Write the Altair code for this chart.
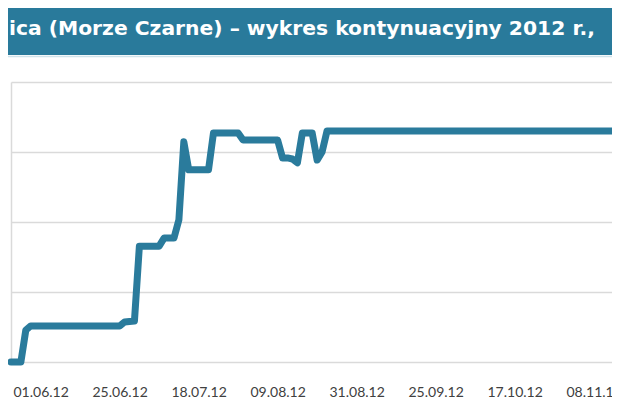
import json
import altair as alt
import pandas as pd

# ---- data ----
title_text = "ica (Morze Czarne) – wykres kontynuacyjny 2012 r.,"

day_index = [0, 2, 3, 4, 22, 23, 25, 26, 30, 31, 33, 34, 35, 36, 40, 41, 46, 47,
             54, 55, 56, 57, 58, 59, 61, 62, 63, 64, 123]
price = [200, 200, 209.1, 210.3, 210.3, 211.4, 211.7, 233.1, 233.1, 235.4, 235.4,
         240.6, 262.9, 254.9, 254.9, 265.4, 265.4, 263.4, 263.4, 258.3, 258.3,
         258.0, 256.9, 265.4, 265.4, 257.7, 260.0, 266.0, 266.0]

tick_index = [6, 22, 38, 54, 70, 86, 102, 118]
tick_labels = ["01.06.12", "25.06.12", "18.07.12", "09.08.12",
               "31.08.12", "25.09.12", "17.10.12", "08.11.12"]
grid_values = [200, 220, 240, 260, 280]

df = pd.DataFrame({"day": day_index, "price": price})
title_df = pd.DataFrame({"t": [title_text]})

BLUE = "#2a7b9c"
GRID = "#dadada"

label_expr = (f"{json.dumps(tick_labels)}"
              f"[indexof({json.dumps(tick_index)}, datum.value)]")

x_scale = alt.Scale(domain=[0, 121.72], nice=False, zero=False)
y_scale = alt.Scale(domain=[200, 280], nice=False, zero=False)

line = alt.Chart(df).mark_line(
    color=BLUE, strokeWidth=7, strokeJoin="round", strokeCap="round"
).encode(
    x=alt.X("day:Q", scale=x_scale,
            axis=alt.Axis(values=tick_index, labelExpr=label_expr, title=None,
                          grid=False, domain=False, ticks=False, tickSize=0,
                          labelPadding=23, labelFont="Lato", labelFontSize=14,
                          labelColor="#404040", labelFlush=False,
                          labelOverlap=False)),
    y=alt.Y("price:Q", scale=y_scale,
            axis=alt.Axis(values=grid_values, labels=False, ticks=False,
                          tickSize=0, title=None, grid=True, gridColor=GRID,
                          gridWidth=1.5, domain=True, domainColor=GRID,
                          domainWidth=1.5)),
)

bar = alt.Chart(title_df).mark_rect(color="#297a9b").encode(
    x=alt.value(-3), x2=alt.value(604), y=alt.value(-74), y2=alt.value(-27)
)
under = alt.Chart(title_df).mark_rule(color="#cfe2ea", strokeWidth=1.5).encode(
    x=alt.value(-3), x2=alt.value(604), y=alt.value(-25.5)
)
title = alt.Chart(title_df).mark_text(
    align="left", baseline="alphabetic", font="DejaVu Sans", fontWeight="bold",
    fontSize=20.3, color="white"
).encode(
    x=alt.value(-2), y=alt.value(-47), text="t:N"
)

chart = alt.layer(bar, under, title, line).properties(
    width=601, height=280,
    autosize=alt.AutoSizeParams(type="none"),
    padding={"left": 3, "top": 74, "right": 0, "bottom": 40},
    background="white",
).configure_view(stroke=None)

chart.save("out.html", embed_options={"renderer": "svg", "actions": False})
